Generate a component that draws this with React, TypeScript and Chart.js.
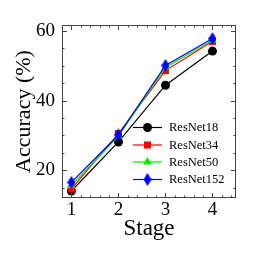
import React, { useEffect, useRef } from "react";
import { Chart, registerables } from "chart.js";
import { drawPoint } from "chart.js/helpers";

Chart.register(...registerables);

const stages = [1, 2, 3, 4];
const resnet18 = [14.0, 28.1, 44.4, 54.2];
const resnet34 = [14.6, 30.5, 48.6, 57.0];
const resnet50 = [15.6, 29.8, 49.5, 57.3];
const resnet152 = [16.5, 30.1, 50.1, 57.8];
const seriesNames = ["ResNet18", "ResNet34", "ResNet50", "ResNet152"];
const xMajorTicks = [1, 2, 3, 4];
const yMajorTicks = [20, 40, 60];

const SERIF = "'Liberation Serif', 'Times New Roman', serif";

function makeDiamond(color: string) {
  const c = document.createElement("canvas");
  c.width = 8;
  c.height = 13;
  const ctx = c.getContext("2d")!;
  ctx.fillStyle = color;
  ctx.beginPath();
  ctx.moveTo(4, 0);
  ctx.lineTo(8, 6.5);
  ctx.lineTo(4, 13);
  ctx.lineTo(0, 6.5);
  ctx.closePath();
  ctx.fill();
  return c;
}

export default function App() {
  const ref = useRef<HTMLCanvasElement>(null);
  useEffect(() => {
    const diamond = makeDiamond("#0000ff");
    const styles = [
      { color: "#000000", pointStyle: "circle", radius: 4.5 },
      { color: "#ff0000", pointStyle: "rect", radius: 5 },
      { color: "#00ee00", pointStyle: "triangle", radius: 5 },
      { color: "#0000ff", pointStyle: diamond as any, radius: 5 },
    ];
    const allData = [resnet18, resnet34, resnet50, resnet152];

    const frameTicks = {
      id: "frameTicks",
      afterDraw(chart: any) {
        const { ctx, chartArea: a } = chart;
        const xs = chart.scales.x;
        const ys = chart.scales.y;
        ctx.save();
        ctx.strokeStyle = "#444444";
        ctx.lineWidth = 1;
        ctx.strokeRect(a.left + 0.5, a.top + 0.5, a.right - a.left - 1, a.bottom - a.top - 1);
        ctx.beginPath();
        for (let k = 4; k <= 22; k++) {
          const v = k / 5;
          const px = Math.round(xs.getPixelForValue(v)) + 0.5;
          const len = k % 5 === 0 ? 5 : 2.5;
          ctx.moveTo(px, a.bottom);
          ctx.lineTo(px, a.bottom - len);
          ctx.moveTo(px, a.top);
          ctx.lineTo(px, a.top + len);
        }
        for (let v = 15; v <= 60; v += 5) {
          const py = Math.round(ys.getPixelForValue(v)) + 0.5;
          const len = v % 20 === 0 ? 5 : 2.5;
          ctx.moveTo(a.left, py);
          ctx.lineTo(a.left + len, py);
          ctx.moveTo(a.right, py);
          ctx.lineTo(a.right - len, py);
        }
        ctx.stroke();
        ctx.restore();
      },
    };

    const legendPlugin = {
      id: "innerLegend",
      afterDatasetsDraw(chart: any) {
        const { ctx } = chart;
        ctx.save();
        const x0 = 133;
        const x1 = 162;
        const tx = 169;
        const rows = [127.5, 145, 162, 179.5];
        seriesNames.forEach((name, i) => {
          const y = rows[i];
          const s = styles[i];
          ctx.strokeStyle = s.color;
          ctx.lineWidth = 1.2;
          ctx.beginPath();
          ctx.moveTo(x0, y);
          ctx.lineTo(x1, y);
          ctx.stroke();
          ctx.fillStyle = s.color;
          drawPoint(ctx, { pointStyle: s.pointStyle, radius: s.radius, rotation: 0, borderWidth: 0 } as any, (x0 + x1) / 2, y);
          ctx.fillStyle = "#000000";
          ctx.font = `12.5px ${SERIF}`;
          ctx.textBaseline = "middle";
          ctx.textAlign = "left";
          ctx.fillText(name, tx, y + 0.5);
        });
        ctx.restore();
      },
    };

    const chart = new Chart(ref.current!, {
      type: "line",
      data: {
        datasets: allData.map((d, i) => ({
          label: seriesNames[i],
          data: d.map((v, j) => ({ x: stages[j], y: v })),
          borderColor: styles[i].color,
          backgroundColor: styles[i].color,
          pointBackgroundColor: styles[i].color,
          pointBorderColor: styles[i].color,
          pointBorderWidth: 0,
          pointStyle: styles[i].pointStyle,
          pointRadius: styles[i].radius,
          borderWidth: 1.2,
          order: 3 - i,
        })),
      },
      options: {
        animation: false,
        responsive: false,
        layout: { padding: { top: 25, right: 23, left: 0, bottom: 0 } },
        plugins: { legend: { display: false }, tooltip: { enabled: false } },
        scales: {
          x: {
            type: "linear",
            min: 0.8,
            max: 4.5,
            afterBuildTicks: (s: any) => {
              s.ticks = xMajorTicks.map((v) => ({ value: v }));
            },
            afterFit: (s: any) => {
              s.height = 61;
            },
            grid: { display: false, drawTicks: false },
            border: { display: false },
            ticks: {
              padding: 1,
              color: "#000",
              font: { family: SERIF, size: 19 },
              autoSkip: false,
              maxRotation: 0,
              callback: (v: any) => String(v),
            },
            title: {
              display: true,
              text: "Stage",
              color: "#000",
              font: { family: SERIF, size: 23 },
              padding: { top: 0, bottom: 16 },
            },
          },
          y: {
            type: "linear",
            min: 12,
            max: 61.7,
            afterBuildTicks: (s: any) => {
              s.ticks = yMajorTicks.map((v) => ({ value: v }));
            },
            afterFit: (s: any) => {
              s.width = 62;
            },
            grid: { display: false, drawTicks: false },
            border: { display: false },
            ticks: {
              padding: 7,
              color: "#000",
              font: { family: SERIF, size: 19 },
              autoSkip: false,
              callback: (v: any) => String(v),
            },
            title: {
              display: true,
              text: "Accuracy (%)",
              color: "#000",
              font: { family: SERIF, size: 22 },
              padding: { top: 11, bottom: 0 },
            },
          },
        },
      },
      plugins: [frameTicks, legendPlugin],
    });
    return () => chart.destroy();
  }, []);
  return (
    <div style={{ position: "fixed", left: 0, top: 0, width: 259, height: 259, background: "#fff" }}>
      <canvas ref={ref} width={259} height={259} style={{ width: 259, height: 259, display: "block" }} />
    </div>
  );
}
